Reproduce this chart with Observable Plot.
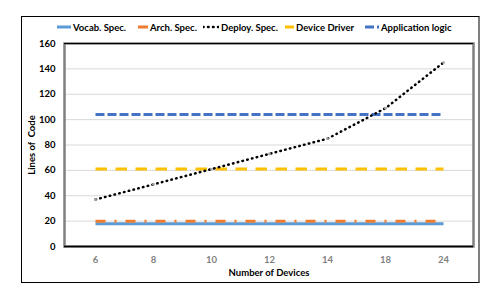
<!DOCTYPE html>
<html>
<head>
<meta charset="utf-8">
<script src="https://cdn.jsdelivr.net/npm/d3@7"></script>
<script src="https://cdn.jsdelivr.net/npm/@observablehq/plot@0.6"></script>
<style>
  body { margin: 0; background: #fff; }
  #wrap { position: relative; width: 498px; height: 302px; font-family: Lato, "Open Sans", sans-serif; }
  #box { position: absolute; left: 21px; top: 16px; width: 456px; height: 265px;
         border: 1px solid #000; border-right: 2px solid #7f7f7f; border-bottom: 1px solid #000; }
  #chart { position: absolute; left: 0; top: 0; }
  #legend { position: absolute; left: 0; top: 20px; width: 498px; height: 14px; }
  .item { position: absolute; top: 0; display: flex; align-items: center; font-size: 9.5px; font-weight: bold; color: #000; white-space: nowrap; }
  .item svg { margin-right: 2px; }
</style>
</head>
<body>
<div id="wrap">
  <div id="box"></div>
  <div id="chart"></div>
  <div id="legend"></div>
</div>
<script>
const devices = ["6", "8", "10", "12", "14", "18", "24"];
const seriesNames = ["Vocab. Spec.", "Arch. Spec.", "Deploy. Spec.", "Device Driver", "Application logic"];
const vocabSpec = [18, 18, 18, 18, 18, 18, 18];
const archSpec = [20, 20, 20, 20, 20, 20, 20];
const deploySpec = [37, 49, 61, 73, 85, 109, 145];
const deviceDriver = [61, 61, 61, 61, 61, 61, 61];
const appLogic = [104, 104, 104, 104, 104, 104, 104];
const yTicks = [0, 20, 40, 60, 80, 100, 120, 140, 160];

const styles = {
  "Vocab. Spec.": {stroke: "#5B9BD5", strokeWidth: 3, dash: null, cap: "butt"},
  "Arch. Spec.": {stroke: "#ED7D31", strokeWidth: 3, dash: "10,9,2,9", cap: "butt"},
  "Deploy. Spec.": {stroke: "#000", strokeWidth: 2.5, dash: "0.6,4.3", cap: "round"},
  "Device Driver": {stroke: "#FFC000", strokeWidth: 3, dash: "11.5,8.5", cap: "butt"},
  "Application logic": {stroke: "#4472C4", strokeWidth: 3, dash: "9,3", cap: "butt"}
};
const rows = (name, vals) => devices.map((d, i) => ({device: d, value: vals[i], series: name}));

const lineMark = (name, vals) => {
  const s = styles[name];
  return Plot.line(rows(name, vals), {
    x: "device", y: "value", stroke: s.stroke, strokeWidth: s.strokeWidth,
    strokeDasharray: s.dash || undefined, strokeLinecap: s.cap
  });
};

const chart = Plot.plot({
  width: 498,
  height: 302,
  marginLeft: 64,
  marginRight: 25,
  marginTop: 43,
  marginBottom: 56,
  style: {fontFamily: "Lato, 'Open Sans', sans-serif", background: "transparent"},
  x: {type: "point", domain: devices, padding: 0.5, label: null},
  y: {domain: [0, 160], label: null},
  marks: [
    Plot.gridY(yTicks, {stroke: "#d9d9d9", strokeOpacity: 1, strokeWidth: 1}),
    Plot.frame({stroke: "#808080", strokeWidth: 2.5}),
    Plot.ruleY([0], {stroke: "#000", strokeWidth: 1.3}),
    Plot.ruleY([160], {stroke: "#000", strokeWidth: 1}),
    Plot.axisY(yTicks, {tickSize: 0, tickPadding: 9, fontSize: 9.5, fontWeight: "bold", fill: "#000",
      label: "Lines of  Code", labelAnchor: "center", labelOffset: 36, labelArrow: "none"}),
    Plot.axisX(devices, {tickSize: 0, tickPadding: 10, fontSize: 9.5, fontWeight: "bold", fill: "#7f7f7f",
      label: "Number of Devices", labelAnchor: "center", labelOffset: 29, labelArrow: "none"}),
    lineMark("Vocab. Spec.", vocabSpec),
    lineMark("Arch. Spec.", archSpec),
    lineMark("Device Driver", deviceDriver),
    lineMark("Application logic", appLogic),
    lineMark("Deploy. Spec.", deploySpec),
    Plot.dot(rows("Deploy. Spec.", deploySpec), {x: "device", y: "value", r: 1.4, fill: "#a6a6a6", stroke: "none"})
  ]
});
chart.querySelectorAll("g[aria-label='x-axis label'] text, g[aria-label='y-axis label'] text").forEach(t => {
  t.setAttribute("font-weight", "bold");
  t.setAttribute("font-size", "9.5");
  t.setAttribute("fill", "#000");
});
document.getElementById("chart").appendChild(chart);

// legend
const legendLeft = [57, 138, 203, 285, 365];
const sampleW = [14, 10, 16, 9, 14];
const legend = document.getElementById("legend");
seriesNames.forEach((name, i) => {
  const s = styles[name];
  const div = document.createElement("div");
  div.className = "item";
  div.style.left = legendLeft[i] + "px";
  const w = sampleW[i];
  const svg = d3.create("svg").attr("width", w).attr("height", 14);
  svg.append("line").attr("x1", 0).attr("x2", w).attr("y1", 7).attr("y2", 7)
    .attr("stroke", s.stroke).attr("stroke-width", s.strokeWidth)
    .attr("stroke-dasharray", name === "Deploy. Spec." ? "0.6,4.4" : (name === "Application logic" ? "9,3" : null))
    .attr("stroke-linecap", s.cap);
  div.appendChild(svg.node());
  const span = document.createElement("span");
  span.textContent = name;
  div.appendChild(span);
  legend.appendChild(div);
});
</script>
</body>
</html>
